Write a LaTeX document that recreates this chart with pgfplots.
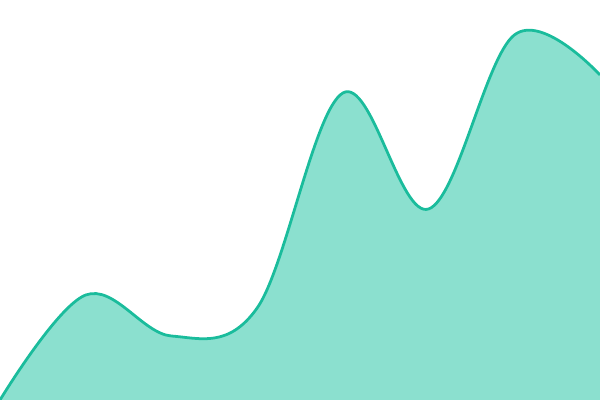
\documentclass[border=0pt]{standalone}
\usepackage{pgfplots}
\pgfplotsset{compat=1.18}
\definecolor{turq}{HTML}{1ABC9C}
\definecolor{turqfill}{HTML}{8BE0CF}
\begin{document}
\begin{tikzpicture}
\begin{axis}[
    name=ax,
    width=6in, height=4in,
    scale only axis,
    hide axis,
    xmin=0, xmax=7,
    ymin=0, ymax=400,
    clip=true,
]
\addplot[draw=none, fill=turqfill, smooth, tension=0.6]
  coordinates {(0,0) (1,105) (2,64) (3,92) (4,307) (5,191) (6,365) (7,325)} \closedcycle;
\addplot[draw=turq, line width=2pt, smooth, tension=0.6]
  coordinates {(0,0) (1,105) (2,64) (3,92) (4,307) (5,191) (6,365) (7,325)};
\end{axis}
\pgfresetboundingbox
\useasboundingbox (ax.south west) rectangle (ax.north east);
\end{tikzpicture}
\end{document}
